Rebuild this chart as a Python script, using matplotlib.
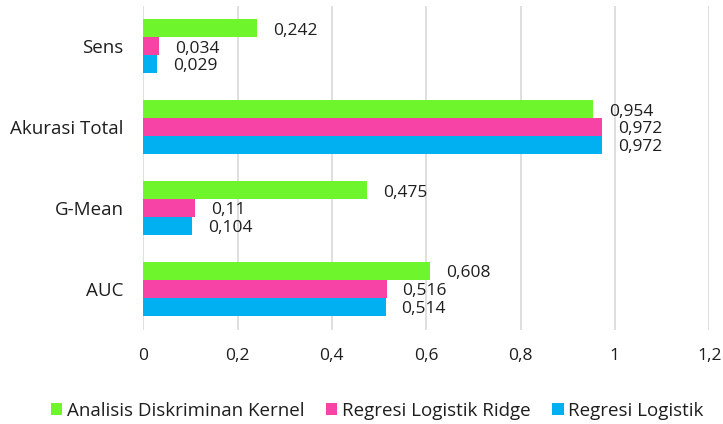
import matplotlib.pyplot as plt
from matplotlib.patches import Patch
import numpy as np

plt.rcParams['font.family'] = ['Open Sans', 'DejaVu Sans']
plt.rcParams['font.size'] = 13.5

# metrik evaluasi tiap metode
kategori = ['Sens', 'Akurasi Total', 'G-Mean', 'AUC']
kernel = [0.242, 0.954, 0.475, 0.608]
ridge = [0.034, 0.972, 0.11, 0.516]
logistik = [0.029, 0.972, 0.104, 0.514]

seri = [
    ('Analisis Diskriminan Kernel', kernel, '#6EF52C'),
    ('Regresi Logistik Ridge', ridge, '#F742A6'),
    ('Regresi Logistik', logistik, '#00B0F0'),
]

teks = '#1E1E1E'
y = np.arange(len(kategori))
h = 0.222

fig = plt.figure(figsize=(7.23, 4.24), dpi=100)
ax = fig.add_axes([0.198, 0.222, 0.783, 0.764])

for k, (nama, nilai, warna) in enumerate(seri):
    pos = y + (k - 1) * h
    ax.barh(pos, nilai, height=h, color=warna, zorder=2)
    for p, v in zip(pos, nilai):
        lbl = ('%g' % v).replace('.', ',')
        ax.annotate(lbl, xy=(v, p), xytext=(11.5, -1.5), textcoords='offset points',
                    ha='left', va='center', color=teks, fontsize=12.5)

ax.set_xlim(0, 1.2)
ax.set_ylim(len(kategori) - 0.5, -0.5)
ax.set_xticks(np.arange(0, 1.21, 0.2))
ax.set_xticklabels(['0', '0,2', '0,4', '0,6', '0,8', '1', '1,2'], color=teks, fontsize=12.5)
ax.set_yticks(y)
ax.set_yticklabels(kategori, color=teks)
ax.tick_params(axis='x', length=0, pad=13)
ax.tick_params(axis='y', length=0, pad=14)
ax.grid(axis='x', color='#D9D9D9', linewidth=1.2, zorder=0)
for s in ax.spines.values():
    s.set_visible(False)

handles = [Patch(facecolor=w, edgecolor='none') for _, _, w in seri]
fig.legend(handles, [n for n, _, _ in seri], loc='center', ncol=3,
           bbox_to_anchor=(0.522, 0.031), frameon=False,
           handlelength=0.6, handleheight=0.6, handletextpad=0.25,
           columnspacing=1.15, labelcolor=teks)

fig.savefig('out.png', dpi=100)
